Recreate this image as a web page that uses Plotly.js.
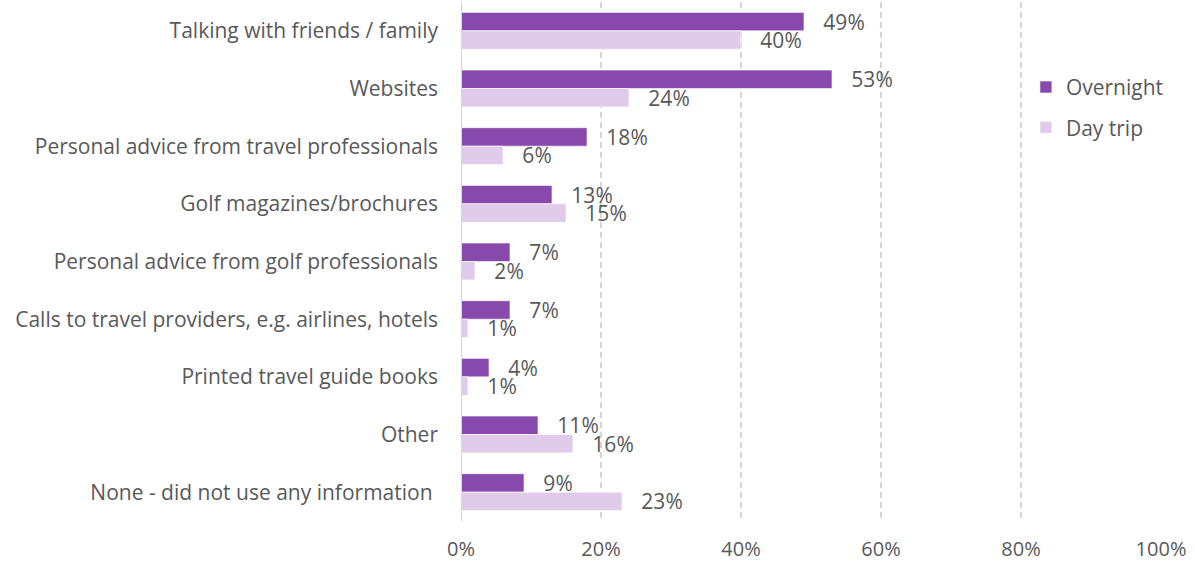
<!DOCTYPE html>
<html><head><meta charset="utf-8">
<script src="https://cdn.plot.ly/plotly-3.0.1.min.js"></script>
<style>body{margin:0;background:#fff}</style>
</head><body>
<div id="chart" style="width:1195px;height:563px"></div>
<script>
const categories = [
  "Talking with friends / family",
  "Websites",
  "Personal advice from travel professionals",
  "Golf magazines/brochures",
  "Personal advice from golf professionals",
  "Calls to travel providers, e.g. airlines, hotels",
  "Printed travel guide books",
  "Other",
  "None - did not use any information\u00a0"
];
const overnight = [49, 53, 18, 13, 7, 7, 4, 11, 9];
const dayTrip = [40, 24, 6, 15, 2, 1, 1, 16, 23];
const seriesNames = ["Overnight", "Day trip"];
const xTickVals = [0, 20, 40, 60, 80, 100];
const xTickText = ["0%", "20%", "40%", "60%", "80%", "100%"];

const font = "'Open Sans', sans-serif";
const gray = "#595959";
const pad = "\u00a0\u00a0\u00a0";
const fs = 21;

function mk(name, vals, color, grp) {
  return {
    type: "bar", orientation: "h", name: name, legendgroup: grp,
    y: categories, x: vals,
    text: vals.map(v => pad + v + "%"),
    textposition: "outside", cliponaxis: false, constraintext: "none",
    textfont: {family: font, size: fs, color: gray},
    marker: {color: color, line: {color: "rgba(255,255,255,0.6)", width: 1}},
    hoverinfo: "skip"
  };
}

const data = [
  mk(seriesNames[0], overnight, "#8849AD", "a"),
  mk(seriesNames[1], dayTrip, "#E0CCEA", "b")
];

const layout = {
  width: 1195, height: 563,
  margin: {l: 461, r: 34, t: 2, b: 42},
  paper_bgcolor: "#fff", plot_bgcolor: "#fff",
  barmode: "group", bargap: 0.36, bargroupgap: 0,
  font: {family: font, color: gray, size: fs},
  showlegend: true,
  legend: {
    x: 0.807, y: 0.875, xanchor: "left", yanchor: "top",
    traceorder: "grouped", tracegroupgap: 10,
    font: {family: font, size: fs, color: gray},
    bgcolor: "rgba(0,0,0,0)"
  },
  xaxis: {
    range: [0, 100], tickvals: xTickVals, ticktext: xTickText,
    showgrid: true, gridcolor: "#D6D6D6", griddash: "6px,4px", gridwidth: 1.5,
    zeroline: false, showline: false, ticks: "",
    ticklabelstandoff: 14,
    tickfont: {family: font, size: 20, color: gray},
    fixedrange: true
  },
  yaxis: {
    type: "category", autorange: "reversed",
    showgrid: false, zeroline: false, ticks: "",
    showline: false,
    ticklabelstandoff: 22,
    tickfont: {family: font, size: fs, color: gray},
    fixedrange: true
  },
  shapes: [{
    type: "line", xref: "x", yref: "paper", x0: 0, x1: 0, y0: 0, y1: 1,
    line: {color: "#D6D6D6", width: 2}
  }]
};

Plotly.newPlot("chart", data, layout, {displayModeBar: false, staticPlot: true});
</script>
</body></html>
